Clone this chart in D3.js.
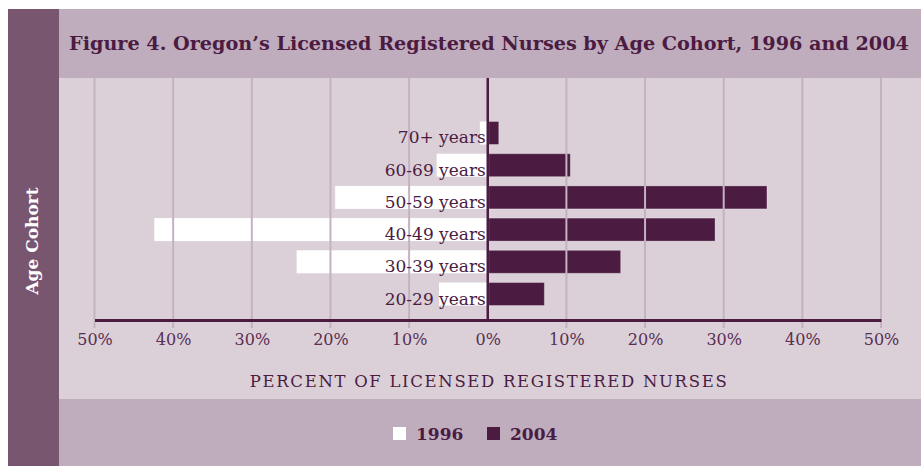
<!doctype html>
<html>
<head>
    <style>
        body { margin: 0; background: #fff; }
        text { font-family: "DejaVu Serif", serif; }
        .bar1996 { fill: #ffffff; }
        .bar2004 { fill: rgb(75, 27, 66); stroke: rgba(255,255,255,0.3); stroke-width: 1; }
    </style>
    <script src="https://cdn.jsdelivr.net/npm/d3@7"></script>
</head>
<body>
<svg id="svg" width="921" height="466"></svg>
<script>
// values (percent of licensed RNs)
var cohorts = ["20-29 years", "30-39 years", "40-49 years", "50-59 years", "60-69 years", "70+ years"];
var pct1996 = [6.2, 24.3, 42.4, 19.4, 6.5, 1.0];
var pct2004 = [7.2, 16.9, 28.9, 35.5, 10.5, 1.4];
var tickValues = [-50, -40, -30, -20, -10, 0, 10, 20, 30, 40, 50];
var years = ["1996", "2004"];

var dark = "#4b1b42";

var svg = d3.select("#svg");

// background panels
svg.append("rect").attr("x", 8).attr("y", 9).attr("width", 51).attr("height", 457).attr("fill", "#785670");
svg.append("rect").attr("x", 59).attr("y", 9).attr("width", 862).attr("height", 69).attr("fill", "#bfadbd");
svg.append("rect").attr("x", 59).attr("y", 78).attr("width", 862).attr("height", 321).attr("fill", "#dbd0d8");
svg.append("rect").attr("x", 59).attr("y", 399).attr("width", 862).attr("height", 67).attr("fill", "#bfadbd");

var xScale = d3.scaleLinear().domain([-50, 50]).range([94.5, 881]);
var yScale = d3.scaleBand().domain(cohorts).range([320, 107]).paddingInner(0.286).paddingOuter(0.45);

var rows = cohorts.map(function(c, i) { return { cohort: c, a: pct1996[i], b: pct2004[i] }; });

// 1996 bars go left
svg.selectAll(".bar1996")
    .data(rows)
    .enter().append("rect")
    .attr("class", "bar1996")
    .attr("x", function(d) { return xScale(-d.a); })
    .attr("y", function(d) { return yScale(d.cohort); })
    .attr("width", function(d) { return xScale(0) - xScale(-d.a); })
    .attr("height", yScale.bandwidth());

// 2004 bars go right
svg.selectAll(".bar2004")
    .data(rows)
    .enter().append("rect")
    .attr("class", "bar2004")
    .attr("x", xScale(0) + 1)
    .attr("y", function(d) { return yScale(d.cohort); })
    .attr("width", function(d) { return xScale(d.b) - xScale(0) - 1; })
    .attr("height", yScale.bandwidth());

// grid lines sit on top of the bars
svg.selectAll(".grid")
    .data(tickValues.filter(function(d) { return d !== 0; }))
    .enter().append("line")
    .attr("class", "grid")
    .attr("x1", function(d) { return xScale(d); })
    .attr("x2", function(d) { return xScale(d); })
    .attr("y1", 78)
    .attr("y2", 328)
    .attr("stroke", "#c4b2c3")
    .attr("stroke-width", 2);

// cohort labels
svg.selectAll(".lbl")
    .data(rows)
    .enter().append("text")
    .attr("class", "lbl")
    .attr("x", xScale(0) - 2)
    .attr("y", function(d) { return yScale(d.cohort) + yScale.bandwidth() - 1; })
    .attr("text-anchor", "end")
    .attr("font-size", 17)
    .attr("fill", dark)
    .text(function(d) { return d.cohort; });

// center line
svg.append("line")
    .attr("x1", xScale(0)).attr("x2", xScale(0))
    .attr("y1", 78).attr("y2", 320)
    .attr("stroke", dark).attr("stroke-width", 2.5);

// bottom axis
var axis = svg.append("g")
    .attr("transform", "translate(0,320)")
    .call(d3.axisBottom(xScale).tickValues(tickValues).tickSize(0).tickSizeOuter(0).tickPadding(14)
        .tickFormat(function(d) { return Math.abs(d) + "%"; }));
axis.select(".domain").attr("stroke", dark).attr("stroke-width", 3);
axis.selectAll("text")
    .attr("font-family", "DejaVu Serif")
    .attr("font-size", 16)
    .attr("fill", "#5a2d52");

svg.append("text")
    .attr("x", xScale(0) + 0.5)
    .attr("y", 387)
    .attr("text-anchor", "middle")
    .attr("font-size", 16.5)
    .attr("fill", dark)
    .attr("textLength", 477)
    .attr("lengthAdjust", "spacing")
    .text("PERCENT OF LICENSED REGISTERED NURSES");

// title
svg.append("text")
    .attr("x", 489)
    .attr("y", 50)
    .attr("text-anchor", "middle")
    .attr("font-size", 19.2)
    .attr("font-weight", "bold")
    .attr("fill", dark)
    .text("Figure 4. Oregon\u2019s Licensed Registered Nurses by Age Cohort, 1996 and 2004");

// y title
svg.append("text")
    .attr("transform", "translate(38,241) rotate(-90)")
    .attr("text-anchor", "middle")
    .attr("font-size", 17)
    .attr("font-weight", "bold")
    .attr("fill", "#ffffff")
    .text("Age Cohort");

// legend
var legendX = [393, 487];
var legendFill = ["#ffffff", dark];
var lg = svg.selectAll(".leg")
    .data(years)
    .enter().append("g")
    .attr("class", "leg")
    .attr("transform", function(d, i) { return "translate(" + legendX[i] + ",427)"; });
lg.append("rect").attr("width", 13).attr("height", 13).attr("fill", function(d, i) { return legendFill[i]; });
lg.append("text")
    .attr("x", 23).attr("y", 13)
    .attr("font-size", 17)
    .attr("font-weight", "bold")
    .attr("fill", dark)
    .text(function(d) { return d; });
</script>
</body>
</html>
